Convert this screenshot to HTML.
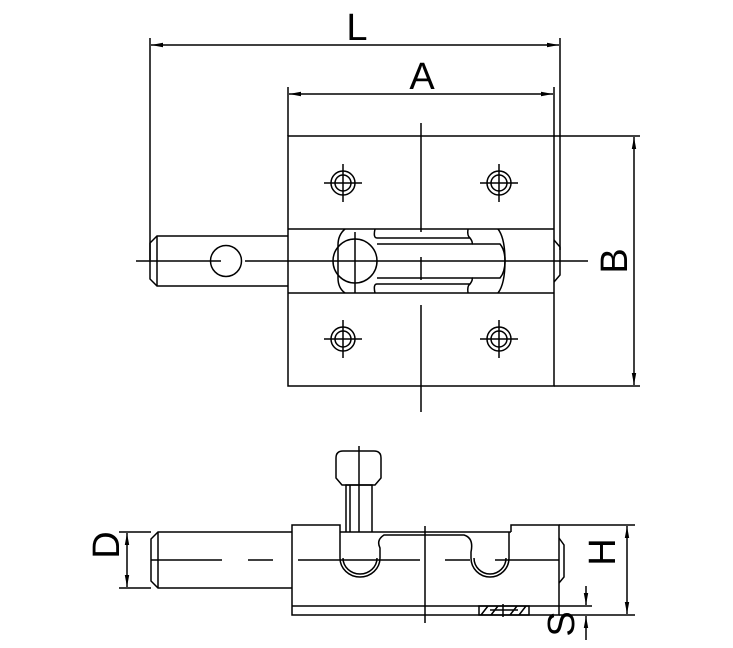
<!DOCTYPE html>
<html><head><meta charset="utf-8"><style>
html,body{margin:0;padding:0;background:#fff;}
svg{display:block;}
text{font-family:"Liberation Sans",sans-serif;fill:#000;}
</style></head><body>
<svg width="733" height="648" viewBox="0 0 733 648" xmlns="http://www.w3.org/2000/svg">
<defs>
<marker id="ar" markerWidth="12" markerHeight="6" refX="12" refY="3" orient="auto" markerUnits="userSpaceOnUse">
<path d="M0,0.8 L12,3 L0,5.2 Z" fill="#000"/></marker>
<marker id="al" markerWidth="12" markerHeight="6" refX="0" refY="3" orient="auto" markerUnits="userSpaceOnUse">
<path d="M12,0.8 L0,3 L12,5.2 Z" fill="#000"/></marker>
</defs>
<g fill="none" stroke="#000" stroke-width="1.5">
<line x1="150" y1="38" x2="150" y2="260"/>
<line x1="560" y1="38" x2="560" y2="250"/>
<line x1="151" y1="45" x2="559" y2="45" marker-start="url(#al)" marker-end="url(#ar)"/>
<line x1="288" y1="87" x2="288" y2="136"/>
<line x1="554" y1="87" x2="554" y2="136"/>
<line x1="289" y1="94" x2="553" y2="94" marker-start="url(#al)" marker-end="url(#ar)"/>
<line x1="554" y1="136" x2="640" y2="136"/>
<line x1="554" y1="386" x2="640" y2="386"/>
<line x1="634" y1="137" x2="634" y2="385" marker-start="url(#al)" marker-end="url(#ar)"/>
<rect x="288" y="136" width="266" height="250"/>
<line x1="288" y1="229" x2="554" y2="229"/>
<line x1="288" y1="293" x2="554" y2="293"/>
<line x1="421" y1="123" x2="421" y2="232"/>
<line x1="421" y1="257" x2="421" y2="280"/>
<line x1="421" y1="305" x2="421" y2="412"/>
<g>
<circle cx="343" cy="183" r="12"/><circle cx="343" cy="183" r="8"/>
<line x1="324" y1="183" x2="362" y2="183"/><line x1="343" y1="164" x2="343" y2="202"/>
<circle cx="499" cy="183" r="12"/><circle cx="499" cy="183" r="8"/>
<line x1="480" y1="183" x2="518" y2="183"/><line x1="499" y1="164" x2="499" y2="202"/>
<circle cx="343" cy="339" r="12"/><circle cx="343" cy="339" r="8"/>
<line x1="324" y1="339" x2="362" y2="339"/><line x1="343" y1="320" x2="343" y2="358"/>
<circle cx="499" cy="339" r="12"/><circle cx="499" cy="339" r="8"/>
<line x1="480" y1="339" x2="518" y2="339"/><line x1="499" y1="320" x2="499" y2="358"/>
</g>
<path d="M288,236 L157,236 L150,243 L150,279 L157,286 L288,286"/>
<line x1="157" y1="236" x2="157" y2="286"/>
<path d="M554,240 L560,247 L560,275 L554,282"/>
<circle cx="226" cy="261" r="15.5"/>
<line x1="136" y1="261" x2="221" y2="261"/>
<line x1="245" y1="261" x2="588" y2="261"/>
<circle cx="355" cy="261" r="22"/>
<line x1="355" y1="232" x2="355" y2="293"/>
<path d="M345,229 Q338,235 338,245 L338,278 Q338,288 345,293"/>
<path d="M375,229 Q373,238 377,238 L470,238 Q473,242 472,244 L377,244"/>
<path d="M375,293 Q373,284 377,284 L470,284 Q473,280 472,278 L377,278"/>
<path d="M468,229 Q467,236 470,238"/>
<path d="M468,293 Q467,286 470,284"/>
<path d="M472,244 L500,244 Q505,250 505,261 Q505,272 500,278 L472,278"/>
<path d="M498,229 Q505,238 505,261 Q505,284 498,293"/>
<!-- side view -->
<path d="M340,532 L340,525 L292,525 L292,615 L559,615 L559,525 L511,525 L511,532"/>
<line x1="292" y1="606" x2="559" y2="606"/>
<path d="M292,532 L158,532 L151,539 L151,581 L158,588 L292,588"/>
<line x1="158" y1="532" x2="158" y2="588"/>
<line x1="340" y1="532" x2="511" y2="532"/>
<path d="M340,532 L340,558 A20,19 0 0 0 380,558 L380,548 Q376,540 384,535 L464,535 Q474,538 471,552 L471,558 A19,19 0 0 0 509,558 L509,532"/>
<path d="M343,558 A17,16 0 0 0 377,558"/>
<path d="M474,558 A16,16 0 0 0 506,558"/>
<path d="M346,532 L346,485 L372,485 L372,532"/>
<line x1="350" y1="485" x2="350" y2="532"/>
<path d="M342,485 L336,478 L336,458 Q336,451 343,451 L374,451 Q381,451 381,458 L381,478 L375,485 Z"/>
<line x1="359" y1="446" x2="359" y2="532"/>
<line x1="151" y1="560" x2="222" y2="560"/>
<line x1="248" y1="560" x2="273" y2="560"/>
<line x1="298" y1="560" x2="420" y2="560"/>
<line x1="445" y1="560" x2="470" y2="560"/>
<line x1="495" y1="560" x2="559" y2="560"/>
<line x1="425" y1="526" x2="425" y2="623"/>
<path d="M559,538 L564,545 L564,577 L559,583"/>
<rect x="479" y="606" width="50" height="9"/>
<path d="M481,615 L488,606 M491,615 L498,606 M510,615 L517,606 M519,615 L526,606 M503,604 L503,617"/>
<line x1="490" y1="610" x2="518" y2="610"/>
<line x1="119" y1="532" x2="151" y2="532"/>
<line x1="119" y1="588" x2="151" y2="588"/>
<line x1="127" y1="533" x2="127" y2="587" marker-start="url(#al)" marker-end="url(#ar)"/>
<line x1="559" y1="525" x2="635" y2="525"/>
<line x1="559" y1="615" x2="635" y2="615"/>
<line x1="627" y1="526" x2="627" y2="614" marker-start="url(#al)" marker-end="url(#ar)"/>
<line x1="559" y1="606" x2="592" y2="606"/>
<line x1="586" y1="586" x2="586" y2="605" marker-end="url(#ar)"/>
<line x1="586" y1="640" x2="586" y2="616" marker-end="url(#ar)"/>
</g>
<text x="357" y="40" font-size="38" text-anchor="middle">L</text>
<text x="422" y="89" font-size="38" text-anchor="middle">A</text>
<text transform="translate(627,261) rotate(-90)" font-size="38" text-anchor="middle">B</text>
<text transform="translate(119,545) rotate(-90)" font-size="38" text-anchor="middle">D</text>
<text transform="translate(615,552) rotate(-90)" font-size="38" text-anchor="middle">H</text>
<text transform="translate(574,624) rotate(-90)" font-size="38" text-anchor="middle">S</text>
</svg>
</body></html>
